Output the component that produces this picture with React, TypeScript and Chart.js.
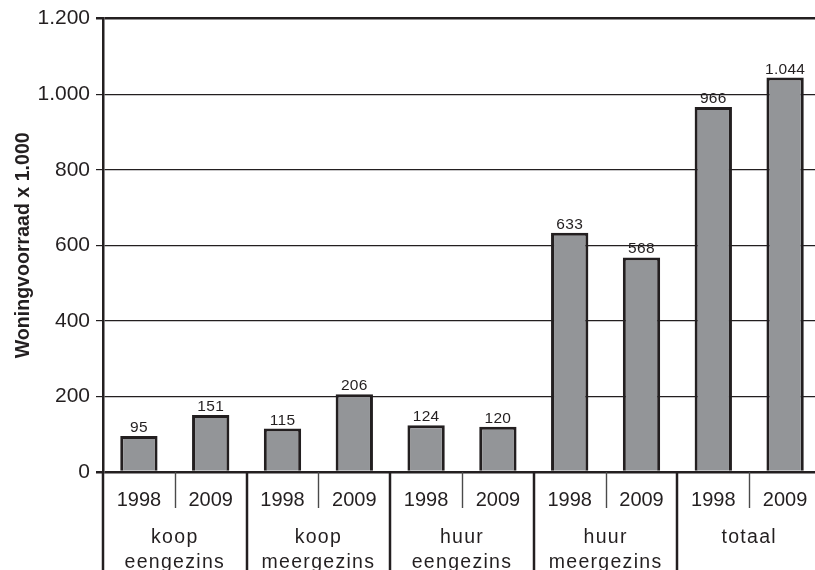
import React, { useEffect, useRef } from 'react';
import { Chart, registerables } from 'chart.js';

Chart.register(...registerables);

const groupLines: string[][] = [
  ['koop', 'eengezins'],
  ['koop', 'meergezins'],
  ['huur', 'eengezins'],
  ['huur', 'meergezins'],
  ['totaal'],
];
const years = ['1998', '2009'];
const values = [95, 151, 115, 206, 124, 120, 633, 568, 966, 1044];
const yMin = 0;
const yMax = 1200;
const yStep = 200;
const yTitle = 'Woningvoorraad x 1.000';

const INK = '#231f20';
const BAR = '#939598';
const FONT = '"Liberation Sans", Arial, sans-serif';

const fmt = (v: number) => String(v).replace(/\B(?=(\d{3})+(?!\d))/g, '.');

const categories = groupLines.flatMap((g) => years.map((y) => `${g.join(' ')} ${y}`));

const tablePlugin = {
  id: 'tablePlugin',
  afterDraw(chart: any) {
    const ctx: CanvasRenderingContext2D = chart.ctx;
    const { left, right, top, bottom } = chart.chartArea;
    const H = chart.height;
    const n = categories.length;
    const catW = (right - left) / n;
    const meta = chart.getDatasetMeta(0);

    ctx.save();
    // data labels
    ctx.fillStyle = INK;
    ctx.font = `15.5px ${FONT}`;
    (ctx as any).letterSpacing = '0.3px';
    ctx.textAlign = 'center';
    ctx.textBaseline = 'alphabetic';
    meta.data.forEach((el: any, i: number) => {
      ctx.fillText(fmt(values[i]), el.x, el.y - 4);
    });

    // separators
    for (let i = 0; i <= n; i++) {
      const x = Math.round(left + i * catW);
      ctx.beginPath();
      if (i % 2 === 0) {
        ctx.strokeStyle = INK;
        ctx.lineWidth = 2.5;
        ctx.moveTo(x, bottom);
        ctx.lineTo(x, H);
      } else {
        ctx.strokeStyle = '#4a4a4a';
        ctx.lineWidth = 1.4;
        ctx.moveTo(x + 0.5, bottom);
        ctx.lineTo(x + 0.5, bottom + 36);
      }
      ctx.stroke();
    }

    // year labels
    ctx.fillStyle = INK;
    ctx.font = `20px ${FONT}`;
    (ctx as any).letterSpacing = '0px';
    for (let i = 0; i < n; i++) {
      const cx = left + (i + 0.5) * catW;
      ctx.fillText(years[i % 2], cx, bottom + 34);
    }

    // group labels
    ctx.font = `19.5px ${FONT}`;
    (ctx as any).letterSpacing = '1.3px';
    groupLines.forEach((lines, g) => {
      const cx = left + (g * 2 + 1) * catW;
      lines.forEach((t, k) => {
        ctx.fillText(t, cx, bottom + 71 + k * 24.5);
      });
    });

    // y title
    (ctx as any).letterSpacing = '0px';
    ctx.font = `bold 21px ${FONT}`;
    const w = ctx.measureText(yTitle).width;
    const target = 226;
    ctx.translate(28.5, (top + bottom) / 2);
    ctx.rotate(-Math.PI / 2);
    ctx.scale(target / w, 1);
    ctx.textBaseline = 'alphabetic';
    ctx.fillText(yTitle, 0, 0);
    ctx.restore();
  },
};

export default function App() {
  const ref = useRef<HTMLCanvasElement | null>(null);

  useEffect(() => {
    if (!ref.current) return;
    const chart = new Chart(ref.current, {
      type: 'bar',
      data: {
        labels: categories,
        datasets: [
          {
            data: values,
            backgroundColor: BAR,
            borderColor: INK,
            borderWidth: 3,
            categoryPercentage: 1,
            barPercentage: 0.52,
          },
        ],
      },
      options: {
        responsive: false,
        maintainAspectRatio: false,
        animation: false,
        devicePixelRatio: 1,
        layout: { padding: { top: 18, bottom: 98, left: 0, right: 0 } },
        plugins: {
          legend: { display: false },
          tooltip: { enabled: false },
          title: { display: false },
        },
        scales: {
          x: { display: false },
          y: {
            min: yMin,
            max: yMax,
            afterFit: (s: any) => {
              s.width = 103;
            },
            ticks: {
              stepSize: yStep,
              color: INK,
              padding: 6,
              font: { family: FONT, size: 21 },
              callback: (v: any) => fmt(Number(v)),
            },
            grid: {
              color: INK,
              lineWidth: (c: any) =>
                c.tick && (c.tick.value === yMin || c.tick.value === yMax) ? 2.5 : 1.2,
              tickLength: 7,
              drawTicks: true,
            },
            border: { display: true, color: INK, width: 2.5 },
          },
        },
      },
      plugins: [tablePlugin],
    });
    return () => chart.destroy();
  }, []);

  return (
    <div
      style={{
        position: 'absolute',
        left: 0,
        top: 0,
        width: 815,
        height: 570,
        overflow: 'hidden',
        background: '#fff',
      }}
    >
      <canvas ref={ref} width={821} height={570} style={{ display: 'block' }} />
    </div>
  );
}
